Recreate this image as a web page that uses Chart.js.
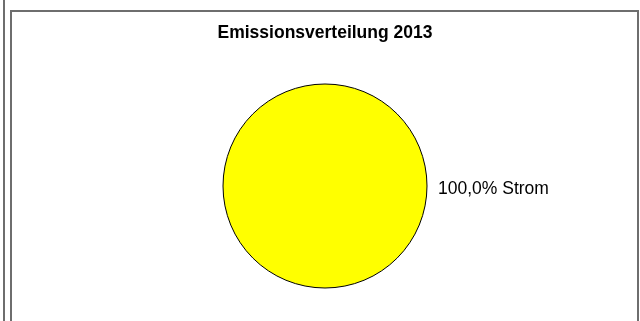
<!DOCTYPE html>
<html>
<head>
<meta charset="utf-8">
<script src="https://cdn.jsdelivr.net/npm/chart.js@4/dist/chart.umd.min.js"></script>
<style>
    html, body { margin: 0; padding: 0; background: #fff; }
    #wrap { position: relative; width: 640px; height: 321px; overflow: hidden; }
    #chart { position: absolute; left: 0; top: 0; }
    .line { position: absolute; background: #6e6e6e; }
</style>
</head>
<body>
<div id="wrap">
    <div class="line" style="left:3px; top:0; width:2px; height:321px;"></div>
    <div class="line" style="left:10px; top:10px; width:2px; height:311px;"></div>
    <div class="line" style="left:10px; top:10px; width:629px; height:2px;"></div>
    <div class="line" style="left:637px; top:10px; width:2px; height:311px;"></div>
    <canvas id="chart" width="640" height="321"></canvas>
</div>
<script>
// Chart data
const chartTitle = 'Emissionsverteilung 2013';
const categories = ['Strom'];
const values = [100];
const sliceColors = ['#ffff00'];

// Outline of the pie and "xx,x% Name" labels next to it
const sliceLabels = {
    id: 'sliceLabels',
    afterDatasetsDraw(chart) {
        const ctx = chart.ctx;
        const meta = chart.getDatasetMeta(0);
        const total = values.reduce((a, b) => a + b, 0);
        ctx.save();
        // outline only (a single full slice would otherwise get a radial edge line)
        const first = meta.data[0];
        ctx.beginPath();
        ctx.arc(first.x, first.y, first.outerRadius, 0, Math.PI * 2);
        ctx.strokeStyle = '#000';
        ctx.lineWidth = 1;
        ctx.stroke();

        ctx.font = '17.5px "Liberation Sans", Arial, sans-serif';
        ctx.fillStyle = '#000';
        ctx.textBaseline = 'middle';
        ctx.textAlign = 'left';
        meta.data.forEach(function(arc, i) {
            const pct = (values[i] / total * 100).toFixed(1).replace('.', ',');
            ctx.fillText(pct + '% ' + categories[i], arc.x + arc.outerRadius + 11, arc.y + 3);
        });
        ctx.restore();
    }
};

new Chart(document.getElementById('chart').getContext('2d'), {
    type: 'pie',
    data: {
        labels: categories,
        datasets: [{
            data: values,
            backgroundColor: sliceColors,
            borderWidth: 0
        }]
    },
    options: {
        responsive: false,
        animation: false,
        layout: {
            padding: { top: 0, bottom: 33, left: 10, right: 0 }
        },
        plugins: {
            legend: { display: false },
            tooltip: { enabled: false },
            title: {
                display: true,
                text: chartTitle,
                color: '#000',
                font: { family: '"Liberation Sans", Arial, sans-serif', size: 17.5, weight: 'bold', lineHeight: 1.2 },
                padding: { top: 23, bottom: 40 }
            }
        }
    },
    plugins: [sliceLabels]
});
</script>
</body>
</html>
